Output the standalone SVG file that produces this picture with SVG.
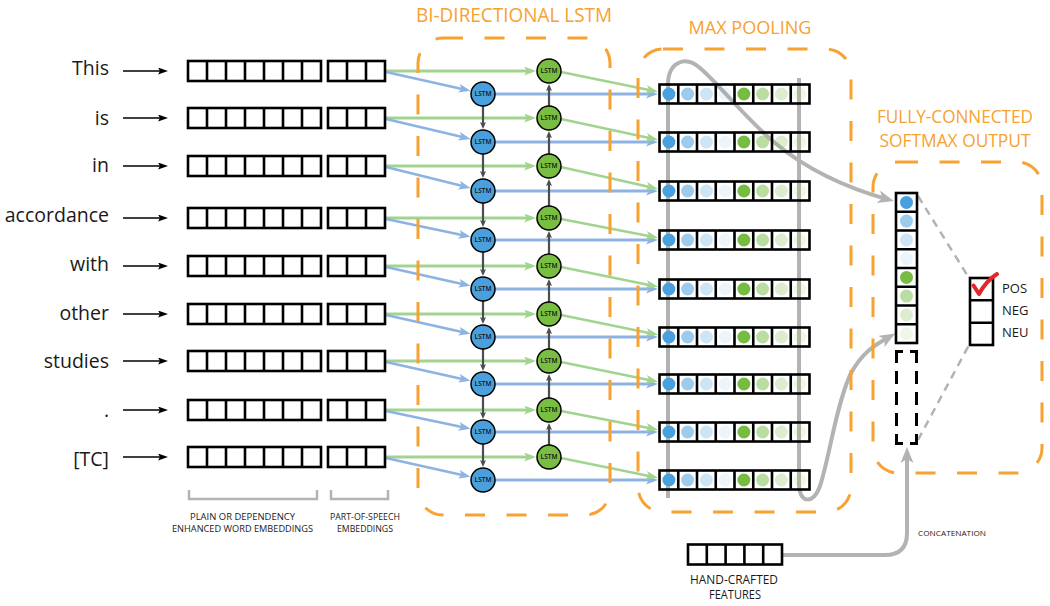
<svg xmlns="http://www.w3.org/2000/svg" xmlns:xlink="http://www.w3.org/1999/xlink" width="1050" height="606" viewBox="0 0 1050 606">
<style>
.cell{fill:none;stroke:#000;stroke-width:2.6}
.ob{fill:none;stroke:#F7A231;stroke-width:3;stroke-dasharray:20 21.5}
.ttl{font-family:"Open Sans","Liberation Sans",sans-serif;fill:#F7A231;font-size:20px;text-anchor:middle}
.word{font-family:"Open Sans","Liberation Sans",sans-serif;font-size:19.5px;fill:#1a1a1a;text-anchor:end}
.sm{font-family:"Open Sans","Liberation Sans",sans-serif;fill:#1a1a1a;text-anchor:middle}
.opt{font-family:"Open Sans","Liberation Sans",sans-serif;fill:#1a1a1a;font-size:13px}
.lt{font-family:"Open Sans","Liberation Sans",sans-serif;font-size:6.5px;fill:#111;text-anchor:middle;font-weight:600}
.cb{fill:#4aa0dd;stroke:#000;stroke-width:1.5}
.cg{fill:#79bd43;stroke:#000;stroke-width:1.5}
.lb{fill:none;stroke:#8db3e2;stroke-width:2.8;marker-end:url(#mb)}
.lg{fill:none;stroke:#a2d490;stroke-width:2.8;marker-end:url(#mg)}
.ld{fill:none;stroke:#4d4d4d;stroke-width:2.2;marker-end:url(#md)}
.lk{fill:none;stroke:#000;stroke-width:1.6;marker-end:url(#mk)}
.ga{fill:none;stroke:#b3b3b3;stroke-width:4;marker-end:url(#mgr)}
.b1{fill:#4aa0dd}.b2{fill:#4aa0dd;fill-opacity:.55}.b3{fill:#4aa0dd;fill-opacity:.27}.b4{fill:#4aa0dd;fill-opacity:.1}
.g1{fill:#76bc43}.g2{fill:#76bc43;fill-opacity:.5}.g3{fill:#76bc43;fill-opacity:.25}.g4{fill:#76bc43;fill-opacity:.12}
</style>
<defs>
<marker id="mb" viewBox="0 0 12 9" refX="8" refY="4.5" markerWidth="12" markerHeight="9" orient="auto" markerUnits="userSpaceOnUse"><path d="M0 0L12 4.5L0 9L3 4.5z" fill="#8db3e2"/></marker>
<marker id="mg" viewBox="0 0 12 9" refX="8" refY="4.5" markerWidth="12" markerHeight="9" orient="auto" markerUnits="userSpaceOnUse"><path d="M0 0L12 4.5L0 9L3 4.5z" fill="#a2d490"/></marker>
<marker id="md" viewBox="0 0 7 6" refX="4" refY="3" markerWidth="7" markerHeight="6" orient="auto" markerUnits="userSpaceOnUse"><path d="M0 0L7 3L0 6L1.5 3z" fill="#4d4d4d"/></marker>
<marker id="mk" viewBox="0 0 10 7" refX="7" refY="3.5" markerWidth="10" markerHeight="7" orient="auto" markerUnits="userSpaceOnUse"><path d="M0 0L10 3.5L0 7L2 3.5z" fill="#000"/></marker>
<marker id="mgr" viewBox="0 0 16 13" refX="10" refY="6.5" markerWidth="16" markerHeight="13" orient="auto" markerUnits="userSpaceOnUse"><path d="M0 0L16 6.5L0 13L4 6.5z" fill="#b3b3b3"/></marker>
<g id="emb7"><rect class="cell" width="133" height="20"/><path class="cell" d="M19 0v20M38 0v20M57 0v20M76 0v20M95 0v20M114 0v20"/></g>
<g id="emb3"><rect class="cell" width="57" height="20"/><path class="cell" d="M19 0v20M38 0v20"/></g>
<g id="pool">
<circle class="b1" cx="9.4" cy="9.5" r="6.5"/><circle class="b2" cx="28.1" cy="9.5" r="6.5"/><circle class="b3" cx="46.9" cy="9.5" r="6.5"/><circle class="b4" cx="65.6" cy="9.5" r="6.5"/>
<circle class="g1" cx="84.4" cy="9.5" r="6.5"/><circle class="g2" cx="103.1" cy="9.5" r="6.5"/><circle class="g3" cx="121.9" cy="9.5" r="6.5"/><circle class="g4" cx="140.6" cy="9.5" r="6.5"/>
<rect class="cell" width="150" height="19"/><path class="cell" d="M18.75 0v19M37.5 0v19M56.25 0v19M75 0v19M93.75 0v19M112.5 0v19M131.25 0v19"/>
</g>
<g id="blstm"><circle class="cb" r="12"/><text class="lt" y="2.4">LSTM</text></g>
<g id="glstm"><circle class="cg" r="12"/><text class="lt" y="2.4">LSTM</text></g>
</defs>
<rect width="1050" height="606" fill="#fff"/>

<g id="titles">
<text class="ttl" x="514" y="22" textLength="196" lengthAdjust="spacingAndGlyphs">BI-DIRECTIONAL LSTM</text>
<text class="ttl" x="750" y="34" style="font-size:19px" textLength="123" lengthAdjust="spacingAndGlyphs">MAX POOLING</text>
<text class="ttl" x="955" y="123" style="font-size:17.5px" textLength="156" lengthAdjust="spacingAndGlyphs">FULLY-CONNECTED</text>
<text class="ttl" x="955" y="147" style="font-size:17.5px" textLength="151" lengthAdjust="spacingAndGlyphs">SOFTMAX OUTPUT</text>
</g>

<g id="words">
<text class="word" x="109" y="75">This</text>
<text class="word" x="109" y="125">is</text>
<text class="word" x="109" y="171.7">in</text>
<text class="word" x="109" y="221.7">accordance</text>
<text class="word" x="109" y="270.7">with</text>
<text class="word" x="109" y="320">other</text>
<text class="word" x="109" y="368.3">studies</text>
<text class="word" x="109" y="417">.</text>
<text class="word" x="109" y="465.5">[TC]</text>
</g>

<g id="gray-flow">
<path class="ga" d="M668 498V85C668 62 685 55 700 68C720 85 745 118 775 143C805 168 840 186 888 199.5"/>
<path class="ga" d="M799 78V485C799 502 813 506 820 486C830 455 835 410 850 375C862 352 875 345 890 336.5"/>
<path class="ga" d="M782 555H885Q907 555 907 533V453"/>
</g>

<g id="connectors">
<path class="lk" d="M123 71H165"/><path class="lk" d="M123 118H165"/><path class="lk" d="M123 166H165"/><path class="lk" d="M123 218H165"/><path class="lk" d="M123 266H165"/><path class="lk" d="M123 314H165"/><path class="lk" d="M123 361H165"/><path class="lk" d="M123 410H165"/><path class="lk" d="M123 457H165"/>
<path class="lg" d="M386 71H532"/><path class="lg" d="M386 118H532"/><path class="lg" d="M386 166H532"/><path class="lg" d="M386 218H532"/><path class="lg" d="M386 266H532"/><path class="lg" d="M386 314H532"/><path class="lg" d="M386 361H532"/><path class="lg" d="M386 410H532"/><path class="lg" d="M386 457H532"/>
<path class="lb" d="M386 72L466.6 90"/><path class="lb" d="M386 119L466.6 138"/><path class="lb" d="M386 167L466.6 187"/><path class="lb" d="M386 219L466.6 236"/><path class="lb" d="M386 267L466.6 285"/><path class="lb" d="M386 315L466.6 333"/><path class="lb" d="M386 362L466.6 380"/><path class="lb" d="M386 411L466.6 428"/><path class="lb" d="M386 458L466.6 476"/>
<path class="lb" d="M495 94H654"/><path class="lb" d="M495 142H654"/><path class="lb" d="M495 191H654"/><path class="lb" d="M495 240H654"/><path class="lb" d="M495 289H654"/><path class="lb" d="M495 337H654"/><path class="lb" d="M495 384H654"/><path class="lb" d="M495 432H654"/><path class="lb" d="M495 480H654"/>
<path class="lg" d="M561 72L654 91"/><path class="lg" d="M561 119L654 139"/><path class="lg" d="M561 167L654 188"/><path class="lg" d="M561 219L654 237"/><path class="lg" d="M561 267L654 286"/><path class="lg" d="M561 315L654 334"/><path class="lg" d="M561 362L654 381"/><path class="lg" d="M561 411L654 429"/><path class="lg" d="M561 458L654 477"/>
<path class="ld" d="M483 106V126"/><path class="ld" d="M483 154V175"/><path class="ld" d="M483 203V224"/><path class="ld" d="M483 252V273"/><path class="ld" d="M483 301V321"/><path class="ld" d="M483 349V368"/><path class="ld" d="M483 396V416"/><path class="ld" d="M483 444V464"/>
<path class="ld" d="M549 106V87"/><path class="ld" d="M549 154V134"/><path class="ld" d="M549 206V182"/><path class="ld" d="M549 254V234"/><path class="ld" d="M549 302V282"/><path class="ld" d="M549 349V330"/><path class="ld" d="M549 398V377"/><path class="ld" d="M549 445V426"/>
<path d="M918 196L969 278M918 440L969 345" fill="none" stroke="#b3b3b3" stroke-width="2.5" stroke-dasharray="8 6"/>
</g>

<g id="embeddings">
<use href="#emb7" x="188" y="61"/><use href="#emb3" x="328" y="61"/>
<use href="#emb7" x="188" y="108"/><use href="#emb3" x="328" y="108"/>
<use href="#emb7" x="188" y="156"/><use href="#emb3" x="328" y="156"/>
<use href="#emb7" x="188" y="208"/><use href="#emb3" x="328" y="208"/>
<use href="#emb7" x="188" y="256"/><use href="#emb3" x="328" y="256"/>
<use href="#emb7" x="188" y="304"/><use href="#emb3" x="328" y="304"/>
<use href="#emb7" x="188" y="351"/><use href="#emb3" x="328" y="351"/>
<use href="#emb7" x="188" y="400"/><use href="#emb3" x="328" y="400"/>
<use href="#emb7" x="188" y="447"/><use href="#emb3" x="328" y="447"/>
</g>

<g id="lstm-forward">
<use href="#blstm" x="483" y="94"/><use href="#blstm" x="483" y="142"/><use href="#blstm" x="483" y="191"/><use href="#blstm" x="483" y="240"/><use href="#blstm" x="483" y="289"/><use href="#blstm" x="483" y="337"/><use href="#blstm" x="483" y="384"/><use href="#blstm" x="483" y="432"/><use href="#blstm" x="483" y="480"/>
</g>
<g id="lstm-backward">
<use href="#glstm" x="549" y="71"/><use href="#glstm" x="549" y="118"/><use href="#glstm" x="549" y="166"/><use href="#glstm" x="549" y="218"/><use href="#glstm" x="549" y="266"/><use href="#glstm" x="549" y="314"/><use href="#glstm" x="549" y="361"/><use href="#glstm" x="549" y="410"/><use href="#glstm" x="549" y="457"/>
</g>

<g id="pooled">
<use href="#pool" x="659.5" y="84.5"/><use href="#pool" x="659.5" y="132.5"/><use href="#pool" x="659.5" y="181.5"/><use href="#pool" x="659.5" y="230.5"/><use href="#pool" x="659.5" y="279.5"/><use href="#pool" x="659.5" y="327.5"/><use href="#pool" x="659.5" y="374.5"/><use href="#pool" x="659.5" y="422.5"/><use href="#pool" x="659.5" y="470.5"/>
</g>

<g id="softmax-vector">
<circle class="b1" cx="906.5" cy="202.4" r="6.5"/><circle class="b2" cx="906.5" cy="221.1" r="6.5"/><circle class="b3" cx="906.5" cy="239.9" r="6.5"/><circle class="b4" cx="906.5" cy="258.6" r="6.5"/>
<circle class="g1" cx="906.5" cy="277.4" r="6.5"/><circle class="g2" cx="906.5" cy="296.1" r="6.5"/><circle class="g3" cx="906.5" cy="314.9" r="6.5"/><circle class="g4" cx="906.5" cy="333.6" r="6.5"/>
<rect class="cell" x="896" y="193" width="21" height="150"/>
<path class="cell" d="M896 211.75h21M896 230.5h21M896 249.25h21M896 268h21M896 286.75h21M896 305.5h21M896 324.25h21"/>
</g>

<g id="features-slot">
<path d="M896.5 363V351.5H903M910 351.5H916.5V363M896.5 434V443.5H903M910 443.5H916.5V434M896.5 371V384M896.5 392V405M896.5 413V426M916.5 371V384M916.5 392V405M916.5 413V426" fill="none" stroke="#000" stroke-width="3"/>
</g>

<g id="output">
<rect class="cell" x="970" y="278" width="23" height="67"/>
<path class="cell" d="M970 300.3h23M970 322.7h23"/>
<path d="M973.5 285.5L979 294Q986 281 997 274" fill="none" stroke="#e3262b" stroke-width="4" stroke-linecap="round" stroke-linejoin="round"/>
<text class="opt" x="1002" y="293">POS</text>
<text class="opt" x="1002" y="315">NEG</text>
<text class="opt" x="1002" y="337">NEU</text>
</g>

<g id="handcrafted">
<rect class="cell" x="688" y="544.5" width="94" height="20"/>
<path class="cell" d="M706.8 544.5v20M725.6 544.5v20M744.4 544.5v20M763.2 544.5v20"/>
<text class="sm" x="734" y="583.5" font-size="12.5" textLength="88" lengthAdjust="spacingAndGlyphs">HAND-CRAFTED</text>
<text class="sm" x="735" y="599" font-size="12.5" textLength="52" lengthAdjust="spacingAndGlyphs">FEATURES</text>
</g>

<g id="concat-label">
<text class="sm" x="952" y="536" font-size="8" textLength="68" lengthAdjust="spacingAndGlyphs">CONCATENATION</text>
</g>

<g id="embedding-labels">
<path d="M189 490V499H317V490M331 490V499H388V490" fill="none" stroke="#b3b3b3" stroke-width="2.5"/>
<text class="sm" x="242.5" y="520" font-size="9.5" textLength="105" lengthAdjust="spacingAndGlyphs">PLAIN OR DEPENDENCY</text>
<text class="sm" x="242.5" y="532" font-size="9.5" textLength="141" lengthAdjust="spacingAndGlyphs">ENHANCED WORD EMBEDDINGS</text>
<text class="sm" x="365" y="520" font-size="9.5" textLength="70" lengthAdjust="spacingAndGlyphs">PART-OF-SPEECH</text>
<text class="sm" x="365" y="532" font-size="9.5" textLength="56" lengthAdjust="spacingAndGlyphs">EMBEDDINGS</text>
</g>

<g id="regions">
<rect class="ob" x="418" y="38" width="192" height="477" rx="25"/>
<rect class="ob" x="638" y="49" width="213" height="463" rx="25"/>
<rect class="ob" x="873" y="162" width="169" height="311" rx="25"/>
</g>
</svg>
